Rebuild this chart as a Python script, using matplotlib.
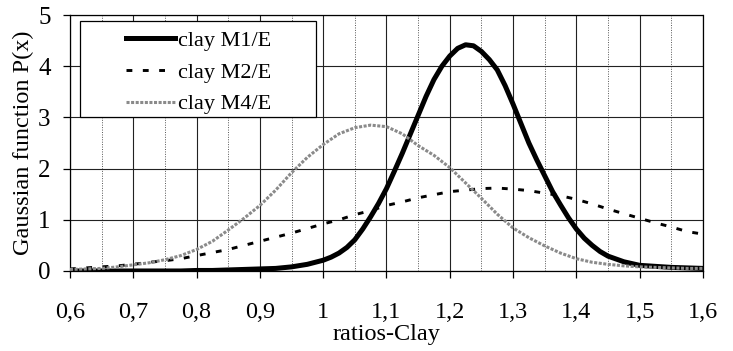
import matplotlib
matplotlib.use("Agg")
import matplotlib.pyplot as plt
from matplotlib.patches import Rectangle
from matplotlib.ticker import MultipleLocator, FuncFormatter

plt.rcParams['font.family'] = ['Liberation Serif', 'DejaVu Serif']

# values
ratio = [0.6, 0.625, 0.65, 0.675, 0.7, 0.725, 0.75, 0.775, 0.8, 0.825,
         0.85, 0.875, 0.9, 0.925, 0.95, 0.975, 1.0, 1.025, 1.05, 1.075,
         1.1, 1.125, 1.15, 1.175, 1.2, 1.225, 1.25, 1.275, 1.3, 1.325,
         1.35, 1.375, 1.4, 1.425, 1.45, 1.475, 1.5, 1.525, 1.55, 1.575, 1.6]

# M1 is read more finely around its narrow peak
ratio_m1 = [0.6, 0.625, 0.65, 0.675, 0.7, 0.725, 0.75, 0.775, 0.8, 0.825,
            0.85, 0.875, 0.9, 0.925, 0.95, 0.975, 1.0, 1.0125, 1.025, 1.0375,
            1.05, 1.0625, 1.075, 1.0875, 1.1, 1.1125, 1.125, 1.1375, 1.15, 1.1625,
            1.175, 1.1875, 1.2, 1.2125, 1.225, 1.2375, 1.25, 1.2625, 1.275, 1.2875,
            1.3, 1.3125, 1.325, 1.3375, 1.35, 1.3625, 1.375, 1.3875, 1.4, 1.4125,
            1.425, 1.4375, 1.45, 1.475, 1.5, 1.525, 1.55, 1.575, 1.6]

clay_m1 = [0.0, 0.0, 0.0, 0.0, 0.0, 0.0, 0.0, 0.0, 0.01, 0.01,
           0.02, 0.03, 0.04, 0.05, 0.08, 0.13, 0.21, 0.27, 0.35, 0.46,
           0.61, 0.82, 1.06, 1.32, 1.61, 1.95, 2.3, 2.67, 3.04, 3.41,
           3.74, 4.0, 4.2, 4.35, 4.42, 4.4, 4.29, 4.13, 3.93, 3.62,
           3.26, 2.88, 2.5, 2.17, 1.86, 1.55, 1.29, 1.04, 0.82, 0.64,
           0.5, 0.38, 0.29, 0.18, 0.11, 0.09, 0.07, 0.06, 0.05]

clay_m2 = [0.04, 0.06, 0.08, 0.1, 0.13, 0.17, 0.2, 0.24, 0.3, 0.36,
           0.42, 0.5, 0.58, 0.66, 0.74, 0.83, 0.92, 1.0, 1.1, 1.18,
           1.28, 1.35, 1.43, 1.49, 1.55, 1.58, 1.61, 1.62, 1.6, 1.57,
           1.52, 1.47, 1.4, 1.31, 1.21, 1.12, 1.03, 0.94, 0.86, 0.77, 0.72]

clay_m4 = [0.03, 0.04, 0.05, 0.08, 0.12, 0.16, 0.22, 0.3, 0.42, 0.58,
           0.8, 1.03, 1.28, 1.58, 1.92, 2.22, 2.47, 2.68, 2.8, 2.85,
           2.82, 2.68, 2.45, 2.26, 2.02, 1.72, 1.42, 1.11, 0.84, 0.65,
           0.49, 0.35, 0.24, 0.17, 0.13, 0.1, 0.08, 0.07, 0.06, 0.05, 0.05]

labels = ['clay M1/E', 'clay M2/E', 'clay M4/E']

fig = plt.figure(figsize=(7.33, 3.51), dpi=100)
ax = fig.add_axes([0.0955, 0.228, 0.8635, 0.729])

ax.set_xlim(0.6, 1.6)
ax.set_ylim(0, 5)
ax.xaxis.set_major_locator(MultipleLocator(0.1))
ax.xaxis.set_minor_locator(MultipleLocator(0.05))
ax.yaxis.set_major_locator(MultipleLocator(1))
ax.xaxis.set_major_formatter(FuncFormatter(lambda v, p: ('%g' % round(v, 2)).replace('.', ',')))

ax.grid(True, which='major', axis='both', color='#222222', lw=0.8)
ax.grid(True, which='minor', axis='x', color='#555555', lw=0.7, ls=(0, (1, 1.5)))
ax.set_axisbelow(True)

ax.plot(ratio_m1, clay_m1, color='black', lw=3.6, label=labels[0], zorder=3)
ax.plot(ratio, clay_m2, color='black', lw=2.1, dashes=(2.0, 3.6), label=labels[1], zorder=3)
ax.plot(ratio, clay_m4, color='#8a8a8a', lw=2.2, ls=(0, (1, 0.5)), label=labels[2], zorder=3)

for s in ['top', 'right']:
    ax.spines[s].set_linestyle((0, (2, 1)))
for s in ax.spines.values():
    s.set_linewidth(0.9)
    s.set_color('black')

ax.tick_params(axis='x', which='major', direction='out', length=5, width=0.9, pad=17, labelsize=17.5)
ax.tick_params(axis='x', which='minor', length=0)
ax.tick_params(axis='y', direction='out', length=5, width=0.9, pad=9, labelsize=18)

ax.set_xlabel('ratios-Clay', fontsize=17.5, labelpad=1)
ax.set_ylabel('Gaussian function P(x)', fontsize=17.5, labelpad=3)

# legend frame
ax.add_patch(Rectangle((0.016, 0.600), 0.373, 0.378, transform=ax.transAxes,
                       facecolor='white', edgecolor='black', lw=0.9, zorder=4))
leg = ax.legend(loc='upper left', bbox_to_anchor=(0.088, 0.94), frameon=False,
                fontsize=16, handlelength=2.2, handletextpad=0.15,
                labelspacing=0.5, borderpad=0, borderaxespad=0)
leg.set_zorder(5)

fig.savefig('out.png', dpi=100)
